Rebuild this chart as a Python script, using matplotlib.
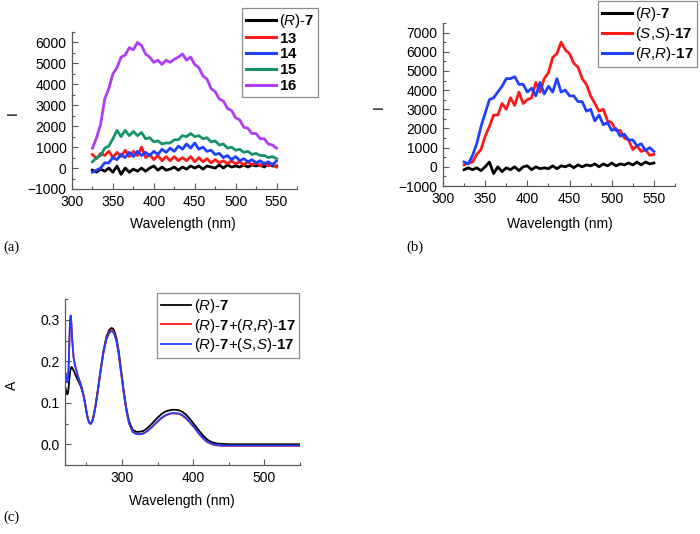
import matplotlib

matplotlib.use("Agg")
import matplotlib.pyplot as plt
import numpy as np
from matplotlib.ticker import MultipleLocator

plt.rcParams["font.family"] = ["Liberation Sans", "DejaVu Sans"]
plt.rcParams["mathtext.fontset"] = "custom"
plt.rcParams["mathtext.rm"] = "Liberation Sans"
plt.rcParams["mathtext.it"] = "Liberation Sans:italic"
plt.rcParams["mathtext.bf"] = "Liberation Sans:bold"

# ---- fluorescence spectra, 325-550 nm every 5 nm
wl = np.arange(325, 551, 5)

a_r7 = [-100, -200, -50, -150, 0, -200, 100, -300, 0, -200, -50, -150, 0, -150, 0, 100,
        -100, 50, -100, -50, 50, -100, 50, -50, 100, 0, 100, -50, 100, 50, 0, 150, 0, 150, 50,
        100, 50, 150, 50, 150, 100, 150, 50, 200, 100, 100]
a_13 = [650, 450, 700, 600, 800, 500, 750, 550, 850, 550, 800, 600, 1000, 500, 650, 400,
        600, 350, 550, 350, 550, 350, 500, 350, 550, 300, 500, 300, 450, 250, 400, 250,
        350, 200, 350, 200, 300, 150, 300, 150, 250, 100, 250, 100, 200, 50]
a_14 = [-200, -100, 0, 250, 250, 500, 400, 650, 500, 750, 550, 800, 600, 750, 600, 800,
        650, 900, 750, 950, 800, 1050, 900, 1150, 950, 1200, 900, 1000, 800, 850, 650, 700,
        500, 600, 400, 550, 350, 450, 300, 400, 250, 350, 200, 300, 150, 350]
a_15 = [300, 500, 600, 950, 1050, 1400, 1800, 1500, 1800, 1550, 1750, 1550, 1700, 1400, 1450,
        1250, 1300, 1150, 1200, 1200, 1350, 1350, 1550, 1500, 1650, 1500, 1550, 1400, 1450,
        1250, 1300, 1100, 1150, 950, 1000, 850, 900, 750, 800, 650, 700, 600, 600, 500, 550, 450]
a_16 = [950, 1450, 2100, 3300, 3800, 4500, 4800, 5300, 5400, 5750, 5650, 6000, 5850, 5450,
        5300, 5050, 5150, 4950, 5150, 5050, 5200, 5300, 5450, 5150, 5300, 4950, 4800, 4400,
        4250, 3800, 3650, 3300, 3200, 2850, 2750, 2400, 2300, 1950, 1900, 1650, 1650, 1400,
        1400, 1150, 1100, 950]

b_r7 = [-150, -50, -150, -50, -200, 0, 250, -350, 0, -250, -50, -150, 0, -200, 0,
        50, -150, 0, -100, -50, -100, 50, -100, 50, 0, 100, -50, 100, 0, 100, 50, 150, 0, 150,
        50, 200, 50, 150, 100, 200, 100, 250, 100, 250, 150, 200]
b_ss17 = [100, 200, 250, 650, 900, 1600, 2100, 2700, 2700, 3300, 3000, 3600, 3200, 3900, 3300,
          3500, 3600, 4400, 3900, 4600, 4900, 5700, 5900, 6500, 6100, 5900, 5400, 5200, 4600,
          4300, 3700, 3300, 2900, 3000, 2400, 2300, 1900, 1900, 1500, 1400, 900, 1100, 800,
          900, 600, 650]
b_rr17 = [250, 150, 600, 1200, 2100, 2800, 3500, 3600, 3900, 4200, 4600, 4600, 4700, 4300, 4300,
          3900, 4100, 3700, 4400, 3800, 4200, 3900, 4600, 3900, 4000, 3700, 3700, 3400, 3400,
          2900, 3000, 2400, 2700, 2200, 2300, 1900, 2000, 1600, 1700, 1400, 1400, 1100, 1200,
          850, 1000, 800]

# ---- UV-vis absorption
uv_wl = [221, 222, 223, 224, 225, 226, 227, 228, 229, 230, 232, 234, 236, 238, 240, 242, 244,
         246, 248, 250, 252, 254, 256, 258, 260, 263, 266, 270, 274, 278, 282, 285, 287, 289,
         292, 295, 298, 302, 306, 310, 315, 320, 325, 330, 335, 340, 345, 350, 355, 360, 365,
         370, 375, 380, 385, 390, 395, 400, 405, 410, 415, 420, 425, 430, 435, 440, 445, 450,
         460, 470, 480, 490, 500, 510, 520, 530, 540, 550]
uv_r7 = [0.135, 0.125, 0.12, 0.122, 0.135, 0.155, 0.172, 0.182, 0.186, 0.185, 0.178, 0.17, 0.162,
         0.155, 0.148, 0.14, 0.13, 0.118, 0.1, 0.08, 0.062, 0.052, 0.05, 0.055, 0.068, 0.095,
         0.13, 0.18, 0.225, 0.258, 0.275, 0.28, 0.279, 0.274, 0.258, 0.23, 0.19, 0.135, 0.088,
         0.055, 0.035, 0.03, 0.03, 0.032, 0.038, 0.046, 0.055, 0.064, 0.072, 0.078, 0.081,
         0.083, 0.083, 0.082, 0.078, 0.071, 0.062, 0.051, 0.04, 0.029, 0.019, 0.011, 0.006,
         0.003, 0.0015, 0.001, 0.0005, 0.0, 0.0, 0.0, 0.0, 0.0, 0.0, 0.0, 0.0, 0.0, 0.0, 0.0]
uv_rr = [0.17, 0.158, 0.15, 0.152, 0.18, 0.24, 0.295, 0.31, 0.29, 0.255, 0.21, 0.19, 0.178,
         0.165, 0.155, 0.145, 0.133, 0.118, 0.1, 0.08, 0.062, 0.052, 0.049, 0.053, 0.065, 0.092,
         0.127, 0.176, 0.221, 0.254, 0.27, 0.275, 0.274, 0.268, 0.252, 0.223, 0.183, 0.13, 0.083,
         0.05, 0.03, 0.025, 0.024, 0.026, 0.031, 0.038, 0.046, 0.054, 0.062, 0.068, 0.072,
         0.074, 0.074, 0.073, 0.069, 0.062, 0.053, 0.043, 0.032, 0.021, 0.012, 0.005, 0.001,
         -0.002, -0.003, -0.004, -0.004, -0.004, -0.004, -0.004, -0.004, -0.004, -0.004,
         -0.004, -0.004, -0.004, -0.004, -0.004]
uv_ss = [0.17, 0.158, 0.15, 0.152, 0.18, 0.24, 0.295, 0.31, 0.29, 0.255, 0.21, 0.19, 0.178,
         0.165, 0.155, 0.145, 0.133, 0.118, 0.1, 0.08, 0.062, 0.052, 0.049, 0.053, 0.065, 0.092,
         0.127, 0.176, 0.22, 0.252, 0.268, 0.272, 0.271, 0.266, 0.25, 0.222, 0.183, 0.13, 0.083,
         0.05, 0.03, 0.025, 0.024, 0.026, 0.031, 0.038, 0.047, 0.055, 0.063, 0.069, 0.073,
         0.075, 0.075, 0.074, 0.07, 0.063, 0.054, 0.044, 0.033, 0.022, 0.013, 0.006, 0.002,
         -0.001, -0.002, -0.003, -0.003, -0.003, -0.003, -0.003, -0.003, -0.003, -0.003,
         -0.003, -0.003, -0.003, -0.003, -0.003]

R7 = r"($\mathit{R}$)-$\mathbf{7}$"
SS17 = r"($\mathit{S}$,$\mathit{S}$)-$\mathbf{17}$"
RR17 = r"($\mathit{R}$,$\mathit{R}$)-$\mathbf{17}$"

W, H = 700, 534
SPINE = "0.35"
BLACK, RED, BLUE = "black", "#ff1a1a", "#2040ff"
GREEN, PURPLE = "#17936b", "#b03cf5"


def px_axes(fig, l, t, r, b):
    return fig.add_axes([l / W, 1 - b / H, (r - l) / W, (b - t) / H])


def style(ax, xlim, ylim, xmaj, xmin, ymaj, ymin):
    ax.set_xlim(*xlim)
    ax.set_ylim(*ylim)
    ax.xaxis.set_major_locator(MultipleLocator(xmaj))
    ax.xaxis.set_minor_locator(MultipleLocator(xmin))
    ax.yaxis.set_major_locator(MultipleLocator(ymaj))
    ax.yaxis.set_minor_locator(MultipleLocator(ymin))
    for s in ("top", "right"):
        ax.spines[s].set_visible(False)
    for s in ("left", "bottom"):
        ax.spines[s].set_color(SPINE)
        ax.spines[s].set_linewidth(0.9)
    ax.tick_params(which="both", direction="in", colors=SPINE, labelcolor="black",
                   labelsize=10, width=0.8)
    ax.tick_params(which="major", length=4, pad=4)
    ax.tick_params(which="minor", length=2)


def legend(ax, x, y, spacing, lw):
    leg = ax.legend(loc="upper left", bbox_to_anchor=(x / W, 1 - y / H),
                    bbox_transform=ax.figure.transFigure, borderaxespad=0,
                    fontsize=10.8, handlelength=2.0, handletextpad=0.2,
                    labelspacing=spacing, borderpad=0.25, fancybox=False, framealpha=1)
    leg.get_frame().set_edgecolor("0.55")
    leg.get_frame().set_linewidth(0.9)
    for ln in leg.get_lines():
        ln.set_linewidth(lw)


fig = plt.figure(figsize=(W / 100, H / 100), dpi=100)

# (a)
ax = px_axes(fig, 72, 32, 297, 189)
for ys, c, lab in [(a_r7, BLACK, R7), (a_13, RED, r"$\mathbf{13}$"),
                   (a_14, BLUE, r"$\mathbf{14}$"), (a_15, GREEN, r"$\mathbf{15}$"),
                   (a_16, PURPLE, r"$\mathbf{16}$")]:
    ax.plot(wl, ys, color=c, lw=2.0, label=lab)
style(ax, (300, 575), (-1000, 6500), 50, 25, 1000, 500)
legend(ax, 242, 8, 0.12, 2.2)

# (b)
ax = px_axes(fig, 443, 23, 675, 186)
for ys, c, lab in [(b_r7, BLACK, R7), (b_ss17, RED, SS17), (b_rr17, BLUE, RR17)]:
    ax.plot(wl, ys, color=c, lw=2.0, label=lab)
style(ax, (300, 575), (-1000, 7500), 50, 25, 1000, 500)
legend(ax, 598, 1, 0.15, 2.2)

# (c)
ax = px_axes(fig, 65, 299, 300, 465)
for ys, c, lab in [(uv_r7, BLACK, R7), (uv_rr, RED, R7 + "+" + RR17),
                   (uv_ss, BLUE, R7 + "+" + SS17)]:
    ax.plot(uv_wl, ys, color=c, lw=1.3, label=lab)
style(ax, (220, 550), (-0.05, 0.35), 100, 50, 0.1, 0.05)
legend(ax, 157, 293, 0.12, 1.3)

# axis titles and panel tags
for x, y in [(183, 224), (560, 224), (182, 501)]:
    fig.text(x / W, 1 - y / H, "Wavelength (nm)", ha="center", va="center", fontsize=10)
for x, y, s in [(13, 113, "I"), (379, 107, "I"), (12, 385, "A")]:
    fig.text(x / W, 1 - y / H, s, ha="center", va="center", rotation=90, fontsize=10)
for x, y, s in [(11, 247, "(a)"), (415, 247, "(b)"), (11, 517, "(c)")]:
    fig.text(x / W, 1 - y / H, s, ha="center", va="center", fontsize=10.5,
             family="Liberation Serif")

fig.savefig("out.png", dpi=100)
